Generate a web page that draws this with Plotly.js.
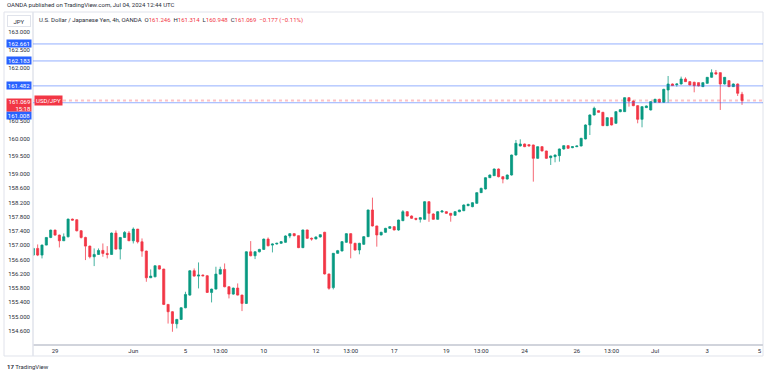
<!DOCTYPE html>
<html>
<head>
<meta charset="utf-8">
<script src="https://cdn.plot.ly/plotly-3.0.1.min.js"></script>
<style>
html,body{margin:0;padding:0;background:#fff;}
#chart{width:768px;height:373px;}
</style>
</head>
<body>
<div id="chart"></div>
<script>
// ---- data (USD/JPY 4h, OANDA) ----
const openPrices = [
156.725,156.912,156.725,157.006,157.221,157.427,157.287,157.127,157.240,157.736,
157.718,157.408,157.221,156.977,156.678,156.743,156.856,156.771,156.743,157.343,
156.893,157.221,157.343,157.127,157.455,157.099,156.837,156.087,156.115,156.425,
156.331,155.338,155.132,154.794,154.916,155.244,155.600,156.284,156.134,156.162,
156.143,155.675,155.769,156.190,156.322,155.834,155.628,155.797,155.600,155.366,
156.818,156.706,156.818,156.884,157.174,157.006,157.037,157.056,157.084,157.262,
157.328,157.271,156.934,157.431,157.196,157.178,157.234,157.365,156.194,155.810,
156.775,156.840,157.084,157.328,157.056,156.868,157.028,157.243,157.993,157.543,
157.290,157.365,157.477,157.524,157.430,157.692,157.945,157.824,157.758,157.730,
157.730,158.226,157.880,157.730,157.936,157.945,157.899,157.842,157.945,157.973,
158.114,158.086,158.180,158.480,158.583,158.901,158.957,159.145,158.929,158.864,
158.976,159.539,159.792,159.848,159.830,159.820,159.445,159.773,159.652,159.464,
159.492,159.521,159.708,159.802,159.745,159.773,159.792,159.989,160.383,160.664,
160.785,160.739,160.364,160.589,160.429,160.757,160.757,161.151,161.057,160.926,
160.542,160.870,160.805,161.020,161.104,161.020,161.367,161.535,161.517,161.535,
161.676,161.601,161.582,161.573,161.460,161.554,161.723,161.854,161.854,161.535,
161.629,161.460,161.535,161.246];
const highPrices = [
156.930,157.024,157.020,157.230,157.440,157.440,157.300,157.334,157.750,157.750,
157.730,157.430,157.240,156.990,156.912,156.912,157.052,156.977,157.360,157.418,
157.230,157.399,157.399,157.502,157.460,157.193,156.850,156.322,156.430,156.440,
156.340,155.350,155.150,154.930,155.260,155.694,156.300,156.350,156.518,156.180,
156.160,155.780,156.397,156.397,156.490,155.850,155.810,155.928,155.610,156.830,
157.118,156.830,156.900,157.190,157.221,157.050,157.070,157.120,157.280,157.340,
157.340,157.280,157.440,157.440,157.220,157.250,157.310,157.380,156.200,156.780,
156.870,157.120,157.340,157.340,157.070,157.070,157.260,158.000,158.340,157.550,
157.380,157.490,157.540,157.540,157.720,157.990,157.960,157.840,157.770,157.790,
158.240,158.240,157.900,157.960,157.990,157.960,157.910,157.960,158.000,158.150,
158.170,158.210,158.490,158.620,158.910,158.990,159.160,159.160,158.940,158.990,
159.550,159.961,159.980,159.860,159.840,159.830,159.780,159.790,159.660,159.520,
159.550,159.720,159.810,159.810,159.780,159.800,160.020,160.400,160.680,160.898,
160.800,160.750,160.600,160.600,160.770,160.830,161.160,161.160,161.070,160.940,
160.910,160.930,161.050,161.120,161.120,161.400,161.760,161.550,161.550,161.742,
161.723,161.610,161.600,161.580,161.580,161.730,161.948,161.929,161.860,161.730,
161.640,161.550,161.550,161.314];
const lowPrices = [
156.700,156.696,156.631,157.000,157.200,157.270,156.940,157.120,157.220,157.700,
157.390,157.190,156.584,156.631,156.415,156.730,156.678,156.631,156.730,156.880,
156.603,157.210,157.120,157.052,157.052,156.678,155.975,156.080,156.100,156.320,
155.320,154.800,154.569,154.663,154.900,155.230,155.580,156.120,155.788,156.130,
155.660,155.394,155.760,156.180,155.820,155.507,155.610,155.590,155.150,155.350,
156.690,156.612,156.800,156.870,156.970,156.800,157.020,157.040,157.070,157.200,
157.250,156.920,156.920,157.180,157.130,157.170,157.220,156.180,155.750,155.760,
156.760,156.830,157.070,156.634,156.850,156.747,157.010,157.230,157.530,156.962,
157.280,157.350,157.460,157.420,157.410,157.680,157.810,157.740,157.700,157.640,
157.720,157.660,157.720,157.720,157.920,157.880,157.664,157.830,157.930,157.960,
158.100,158.070,158.170,158.470,158.570,158.890,158.950,158.910,158.742,158.850,
158.960,159.520,159.780,159.760,159.780,158.790,159.430,159.640,159.430,159.258,
159.333,159.352,159.690,159.710,159.730,159.760,159.780,159.980,160.101,160.650,
160.730,160.350,160.350,160.370,160.420,160.740,160.750,160.898,160.910,160.430,
160.317,160.860,160.790,161.010,161.000,161.010,161.011,161.480,161.460,161.520,
161.590,161.500,161.301,161.470,161.450,161.540,161.710,161.800,160.805,161.520,
161.450,161.450,161.198,160.948];
const closePrices = [
156.912,156.725,157.006,157.221,157.427,157.287,157.127,157.240,157.736,157.708,
157.408,157.221,156.977,156.678,156.743,156.856,156.771,156.743,157.343,156.893,
157.221,157.362,157.127,157.455,157.099,156.837,156.087,156.134,156.425,156.331,
155.338,155.132,154.804,154.916,155.244,155.619,156.284,156.134,156.162,156.143,
155.675,155.769,156.190,156.322,155.834,155.628,155.797,155.600,155.366,156.818,
156.706,156.818,156.884,157.174,156.987,157.034,157.056,157.103,157.262,157.328,
157.271,156.934,157.431,157.196,157.178,157.234,157.299,156.194,155.791,156.775,
156.850,157.103,157.328,157.056,156.868,157.056,157.243,157.993,157.543,157.290,
157.365,157.477,157.524,157.431,157.711,157.945,157.824,157.758,157.730,157.777,
158.226,157.899,157.730,157.945,157.964,157.899,157.842,157.945,157.992,158.133,
158.152,158.198,158.480,158.601,158.901,158.976,159.145,158.929,158.864,158.976,
159.538,159.867,159.848,159.773,159.792,159.445,159.773,159.652,159.445,159.511,
159.539,159.708,159.802,159.727,159.773,159.792,160.008,160.383,160.664,160.851,
160.739,160.364,160.589,160.383,160.757,160.813,161.151,161.057,160.926,160.542,
160.898,160.917,161.039,161.104,161.020,161.385,161.535,161.489,161.535,161.676,
161.601,161.507,161.489,161.479,161.573,161.723,161.854,161.816,161.535,161.723,
161.460,161.535,161.273,161.069];
// bar number of each 4h candle (trading time, weekends skipped)
const barIndex = openPrices.map((_, i) => i);
// x-axis tick labels and the bar they sit on
const xTickLabels = ['29','Jun','5','13:00','10','12','13:00','17','19','13:00','24','26','13:00','Jul','3','5'];
const xTickBars   = [5, 23, 35, 43, 53, 65, 73, 83, 95, 103, 113, 125, 133, 143, 155, 167];
// y-axis tick values and labels (161.500 / 161.000 sit behind the price tags)
const yTickValues = [163,162.5,162,161.5,161,160.5,160,159.5,159,158.6,158.2,157.8,157.4,157,156.6,156.2,155.8,155.4,155,154.6];
const yTickLabels = ['163.000','162.500','162.000','','','160.500','160.000','159.500','159.000','158.600','158.200','157.800','157.400','157.000','156.600','156.200','155.800','155.400','155.000','154.600'];
// horizontal price levels
const levelPrices = [162.661, 162.183, 161.482, 161.008];
const lastPrice = 161.069;
const countdown = '15:18';
const symbol = 'USD/JPY';

// ---- styling ----
const UP = '#089981', DOWN = '#f23645', BLUE = '#2962ff';
const FONT = 'Roboto, "Liberation Sans", Arial, sans-serif';
const TXT = '#2a2e39';

const trace = {
  type: 'candlestick',
  x: barIndex,
  open: openPrices, high: highPrices, low: lowPrices, close: closePrices,
  increasing: {line: {color: 'rgba(8,153,129,0.75)', width: 1}, fillcolor: UP},
  decreasing: {line: {color: 'rgba(242,54,69,0.75)', width: 1}, fillcolor: DOWN},
  whiskerwidth: 0,
  hoverinfo: 'skip',
  showlegend: false
};

const shapes = [];
// frame
shapes.push({type:'rect', xref:'paper', yref:'paper', x0:-0.0397, x1:1, y0:-0.0361, y1:1,
  line:{color:'#e0e3eb', width:1}, fillcolor:'rgba(0,0,0,0)', layer:'below'});
// y-axis separator
shapes.push({type:'line', xref:'paper', yref:'paper', x0:0, x1:0, y0:-0.0361, y1:1,
  line:{color:'#e0e3eb', width:1.5}});
// current price dotted line
shapes.push({type:'line', xref:'paper', yref:'y', x0:0, x1:1, y0:lastPrice, y1:lastPrice,
  line:{color:'rgba(242,54,69,0.3)', width:2, dash:'dot'}, layer:'below'});
levelPrices.forEach(p => shapes.push({type:'line', xref:'paper', yref:'y', x0:0, x1:1, y0:p, y1:p,
  line:{color:'rgba(41,98,255,0.5)', width:1}}));

const annotations = [];
const labelX = -0.0192;
levelPrices.forEach(p => {
  annotations.push({xref:'paper', yref:'y', x:labelX, y:p, xanchor:'center', yanchor:'middle',
    text:p.toFixed(3), showarrow:false, bgcolor:BLUE, font:{family:FONT, size:6, color:'#fff'},
    width:24, height:7, borderpad:0, yshift: (p === 161.008 ? -13 : 0)});
});
// last price box
annotations.push({xref:'paper', yref:'y', x:labelX, y:lastPrice, xanchor:'center', yanchor:'top',
  text:lastPrice.toFixed(3) + '<br>' + countdown, align:'right', showarrow:false, bgcolor:DOWN,
  font:{family:FONT, size:6, color:'#fff'}, width:24, height:12, borderpad:0, yshift:3});
// symbol tag
annotations.push({xref:'paper', yref:'y', x:0.0014, y:lastPrice, xanchor:'left', yanchor:'middle',
  text:symbol, showarrow:false, bgcolor:DOWN, font:{family:FONT, size:6, color:'#fff'},
  borderpad:1});
// JPY unit box
annotations.push({xref:'paper', yref:'paper', x:labelX, y:0.9729, xanchor:'center', yanchor:'middle',
  text:'JPY', showarrow:false, bgcolor:'#fff', bordercolor:'#e0e3eb', borderwidth:1,
  font:{family:FONT, size:6, color:TXT}, width:22, height:10, borderpad:0});
// header
annotations.push({xref:'paper', yref:'paper', x:-0.0384, y:1.0211, xanchor:'left', yanchor:'middle',
  text:'OANDA published on TradingView.com, Jul 04, 2024 12:44 UTC', showarrow:false,
  font:{family:FONT, size:6, color:TXT}});
// legend line
const r = s => '<span style="color:' + DOWN + '">' + s + '</span>';
annotations.push({xref:'paper', yref:'paper', x:0.0055, y:0.9759, xanchor:'left', yanchor:'middle',
  text:'U.S. Dollar / Japanese Yen, 4h, OANDA  O' + r(openPrices[163].toFixed(3)) +
       '  H' + r(highPrices[163].toFixed(3)) + '  L' + r(lowPrices[163].toFixed(3)) +
       '  C' + r(closePrices[163].toFixed(3)) + '  ' + r('\u22120.177 (\u22120.11%)'),
  showarrow:false, font:{family:FONT, size:6, color:TXT}});
// logo
annotations.push({xref:'paper', yref:'paper', x:-0.0384, y:-0.0663, xanchor:'left', yanchor:'middle',
  text:'<b>17</b> TradingView', showarrow:false, font:{family:FONT, size:6, color:TXT}});

const layout = {
  width: 768, height: 373,
  margin: {l:33, r:5, t:12, b:29, pad:0},
  paper_bgcolor: '#fff', plot_bgcolor: '#fff',
  font: {family: FONT, size: 6, color: TXT},
  xaxis: {
    type: 'linear', range: [-0.069, 167.825], fixedrange: true,
    tickmode: 'array', tickvals: xTickBars, ticktext: xTickLabels,
    showgrid: false, zeroline: false, ticks: '', showline: true, linecolor: '#d1d4dc', linewidth: 1.5,
    tickfont: {family: FONT, size: 6, color: TXT},
    rangeslider: {visible: false}
  },
  yaxis: {
    type: 'linear', range: [154.225, 163.559], fixedrange: true, side: 'left',
    tickmode: 'array', tickvals: yTickValues, ticktext: yTickLabels,
    showgrid: false, zeroline: false, ticks: '', showline: false,
    tickfont: {family: FONT, size: 6, color: TXT}, ticklabelstandoff: 2
  },
  shapes: shapes,
  annotations: annotations,
  showlegend: false
};

Plotly.newPlot('chart', [trace], layout, {displayModeBar: false, staticPlot: true});
</script>
</body>
</html>
